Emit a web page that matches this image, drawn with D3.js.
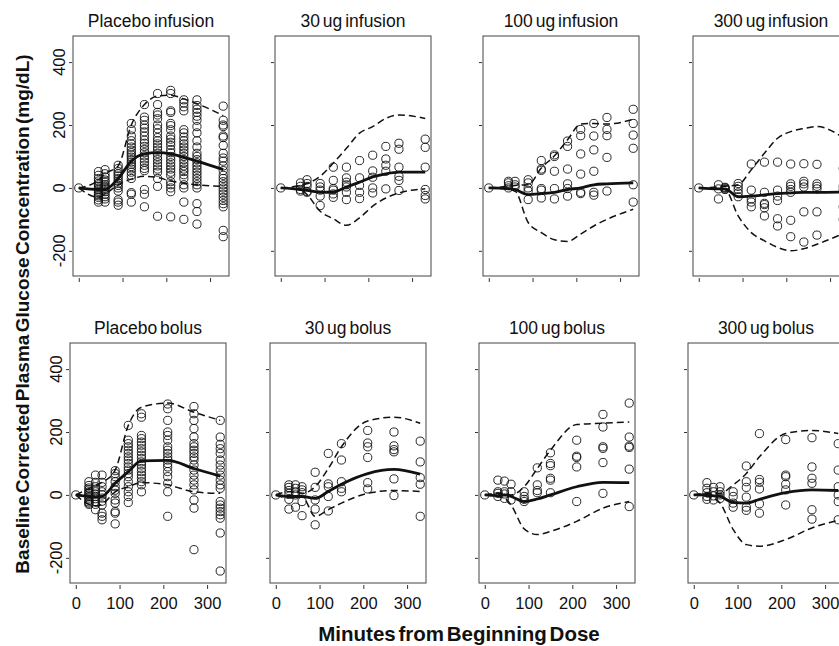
<!DOCTYPE html>
<html>
<head>
<meta charset="utf-8">
<script src="https://cdn.jsdelivr.net/npm/d3@7/dist/d3.min.js"></script>
<style>
  body { margin: 0; background: #fff; }
  svg { display: block; }
  text { font-family: "Liberation Sans", Arial, sans-serif; fill: #111; }
</style>
</head>
<body>
<svg id="chart" width="839" height="646"></svg>
<script>
// sampling times (minutes)
const infusionTimes = [0, 45, 60, 90, 120, 150, 180, 210, 240, 270, 330];
const bolusTimes = [0, 30, 45, 60, 90, 120, 150, 210, 270, 330];

const panelTitles = ["Placebo infusion", "30 ug infusion", "100 ug infusion", "300 ug infusion",
                     "Placebo bolus", "30 ug bolus", "100 ug bolus", "300 ug bolus"];

const xTicks = [0, 100, 200, 300];
const yTicks = [-200, 0, 200, 400];

// observed values, one list per sampling time
const placeboInfusionObs = [
    [0],
    [52, 40, 30, 22, 15, 10, 5, 0, -5, -10, -15, -20, -25, -30, -38, -45],
    [58, 45, 35, 25, 18, 10, 5, 0, -5, -12, -20, -28, -35, -45],
    [72, 62, 52, 45, 38, 30, 22, 15, 8, 0, -10, -38, -45, -55],
    [205, 185, 165, 150, 140, 130, 120, 112, 105, 98, 90, 82, 75, 68, 60, 50, 40, 30, -15, -20, -45],
    [265, 225, 215, 200, 190, 178, 165, 152, 142, 132, 122, 112, 102, 92, 82, 72, 62, 55, -5, -20, -60],
    [300, 265, 240, 232, 220, 200, 188, 175, 160, 150, 140, 130, 120, 110, 100, 90, 80, 70, 60, 50, 30, 5, -90],
    [310, 300, 245, 240, 205, 198, 185, 165, 155, 145, 135, 122, 112, 100, 90, 80, 70, 60, 50, 40, 20, 10, 0, -12, -92],
    [280, 270, 258, 245, 185, 175, 162, 150, 140, 130, 120, 110, 100, 90, 80, 70, 60, 52, 42, 30, 10, 0, -45, -100],
    [280, 262, 250, 240, 228, 215, 195, 175, 150, 130, 110, 100, 90, 80, 70, 60, 50, 40, 30, 20, 10, 0, -50, -75, -115],
    [260, 215, 200, 195, 165, 160, 135, 110, 95, 85, 70, 55, 40, 30, 20, 10, 0, -10, -20, -30, -40, -50, -60, -135, -155]
];
const placeboInfusionMed = [0, -5, -5, 30, 85, 108, 112, 108, 97, 85, 58];
const placeboInfusionHi = [0, 25, 45, 70, 200, 265, 292, 295, 283, 268, 230];
const placeboInfusionLo = [0, -30, -20, 10, 28, 37, 33, 22, 15, 10, 5];

const inf30Obs = [
    [0], [16, 5, -5, -10], [26, 14, 5, -11, -14], [14, 3, -7, -26, -56],
    [66, 24, -2, -7, -19, -30], [66, 32, 18, 10, 3, -14, -37], [87, 32, 8, -14, -34],
    [104, 54, 34, 0, -16], [132, 92, 72, 53, -3], [142, 123, 66, 37, 24, -8],
    [155, 129, 66, -5, -24, -35]
];
const inf30Med = [0, -5, -8, -14, -13, 3, 18, 35, 45, 50, 50];
const inf30Hi = [0, 8, 14, 37, 79, 126, 174, 195, 221, 232, 221];
const inf30Lo = [0, -5, -21, -74, -98, -119, -95, -58, -32, -16, -3];

const inf100Obs = [
    [0], [21, 16, 7, 0], [21, 10, 3], [26, 16, 0, -10, -37],
    [87, 60, 56, -2, -7, -32], [105, 100, 53, -2, -35], [149, 132, 60, 13, -2, -26],
    [186, 166, 108, 44, -14, -18], [205, 165, 121, 53, -14, -23], [224, 186, 166, 97, -10],
    [250, 205, 168, 126, 10, -45]
];
const inf100Med = [0, -2, -5, -21, -18, -14, -5, 0, 10, 13, 16];
const inf100Hi = [0, 5, 8, 10, 63, 102, 153, 203, 205, 203, 218];
const inf100Lo = [0, -5, -10, -110, -142, -165, -170, -147, -121, -100, -68];

const inf300Obs = [
    [0], [10, -3, -35], [2, 0, -3, -5], [14, 5, -5, -16, -28],
    [76, -7, -35, -45, -60], [82, -14, -49, -53, -63, -89], [82, -7, -26, -40, -98, -121],
    [76, 13, 5, -5, -14, -103, -155], [77, 21, 13, 3, -76, -172], [75, 13, 5, -3, -76, -150],
    [62, 5, -5, -60, -100]
];
const inf300Med = [0, -3, -3, -28, -26, -22, -18, -16, -14, -14, -13];
const inf300Hi = [0, 3, 5, 10, 58, 110, 158, 179, 189, 195, 160];
const inf300Lo = [0, -3, -5, -89, -142, -168, -189, -200, -193, -179, -145];

const placeboBolusObs = [
    [0],
    [42, 30, 22, 16, 10, 5, 0, -5, -10, -16, -22, -26, -30],
    [63, 40, 26, 18, 10, 3, -5, -12, -21, -30, -47],
    [63, 40, 26, 10, 0, -10, -20, -32, -58, -68, -79],
    [77, 68, 58, 42, 26, 15, 5, -16, -26, -53, -58, -92],
    [221, 174, 163, 153, 142, 132, 121, 111, 100, 89, 79, 68, 58, 42, 26, 10, -5, -24],
    [258, 247, 189, 179, 168, 158, 147, 137, 126, 116, 105, 95, 84, 74, 63, 53, 42, 32, 10],
    [289, 274, 237, 200, 189, 174, 153, 142, 132, 121, 111, 100, 89, 74, 58, 37, 10, -68],
    [281, 258, 237, 211, 184, 163, 153, 142, 132, 121, 111, 95, 79, 63, 47, 32, 16, -16, -42, -174],
    [237, 184, 161, 147, 132, 111, 95, 79, 63, 47, 32, 21, -21, -32, -42, -53, -63, -74, -121, -242]
];
const placeboBolusMed = [0, -5, -7, -5, 37, 74, 108, 110, 84, 60];
const placeboBolusHi = [0, 20, 30, 40, 79, 221, 279, 292, 263, 237];
const placeboBolusLo = [0, -30, -35, -30, 10, 26, 39, 32, 10, 5];

const bol30Obs = [
    [0], [32, 24, 14, 5, -14, -45], [32, 21, 10, 0, -39], [26, 16, 7, -21, -66],
    [72, 24, -16, -45, -95], [132, 35, 26, -5, -51], [163, 111, 42, 21, 10],
    [205, 165, 153, 119, 39, 19], [200, 156, 144, 137, 51, -2], [171, 105, 55, 34, -68]
];
const bol30Med = [0, -5, -5, -5, -11, 11, 34, 68, 81, 66];
const bol30Hi = [0, 10, 10, 5, 26, 84, 153, 235, 247, 228];
const bol30Lo = [0, -10, -10, -5, -68, -47, -26, 5, 14, 11];

const bol100Obs = [
    [0], [47, 10, 5, -5], [44, 10, 3, -11], [34, 10, -16], [10, -5, -14, -21],
    [86, 32, 14, 7], [134, 100, 93, 53, 47, 7], [174, 123, 119, 89, -21],
    [256, 216, 153, 148, 103, 5], [292, 184, 155, 151, 82, -37]
];
const bol100Med = [0, -2, 0, -5, -21, -13, 0, 26, 40, 39];
const bol100Hi = [0, 5, 5, 0, 26, 84, 142, 224, 228, 232];
const bol100Lo = [0, -5, -10, -32, -108, -126, -116, -84, -42, -21];

const bol300Obs = [
    [0], [39, 21, 7, -5, -14], [24, 10, -3, -16], [26, 10, 0, -11], [10, -5, -26, -39],
    [92, 42, 24, -7, -39, -49], [195, 49, 40, 19, -28, -58], [176, 63, 58, 34, 16, -32],
    [182, 89, 53, 37, -47, -77], [163, 79, 26, 0, -21, -79]
];
const bol300Med = [0, 0, -3, -5, -24, -26, -14, 7, 16, 14];
const bol300Hi = [0, 5, 5, 5, 32, 68, 121, 195, 205, 195];
const bol300Lo = [0, -5, -10, -26, -110, -158, -163, -142, -105, -81];

const panels = [
    [infusionTimes, placeboInfusionObs, placeboInfusionMed, placeboInfusionHi, placeboInfusionLo],
    [infusionTimes, inf30Obs, inf30Med, inf30Hi, inf30Lo],
    [infusionTimes, inf100Obs, inf100Med, inf100Hi, inf100Lo],
    [infusionTimes, inf300Obs, inf300Med, inf300Hi, inf300Lo],
    [bolusTimes, placeboBolusObs, placeboBolusMed, placeboBolusHi, placeboBolusLo],
    [bolusTimes, bol30Obs, bol30Med, bol30Hi, bol30Lo],
    [bolusTimes, bol100Obs, bol100Med, bol100Hi, bol100Lo],
    [bolusTimes, bol300Obs, bol300Med, bol300Hi, bol300Lo]
].map((p, i) => ({
    title: panelTitles[i], times: p[0], obs: p[1], med: p[2], hi: p[3], lo: p[4],
    row: Math.floor(i / 4), col: i % 4
}));

// layout
const panelW = 156, panelH = 240;
const rowTop = [36, 343];
const colLeft = [[73, 275, 483, 693], [70, 270, 479, 688]];

const x = d3.scaleLinear().domain([-13.2, 343.2]).range([0, panelW]);
const y = d3.scaleLinear().domain([-280, 483]).range([panelH, 0]);

const svg = d3.select("#chart");

const line = d3.line()
    .x(d => x(d[0]))
    .y(d => y(d[1]))
    .curve(d3.curveMonotoneX);

panels.forEach(p => {
    const g = svg.append("g")
        .attr("transform", `translate(${colLeft[p.row][p.col]},${rowTop[p.row]})`);

    g.append("text")
        .attr("x", panelW / 2)
        .attr("y", -9)
        .attr("text-anchor", "middle")
        .style("font-size", "17.5px")
        .style("word-spacing", "-2px")
        .text(p.title);

    // x axis (labels only on the bottom row)
    const xAxis = d3.axisBottom(x)
        .tickValues(xTicks)
        .tickSize(4)
        .tickPadding(8)
        .tickFormat(p.row === 1 ? d3.format("d") : () => "");
    const xg = g.append("g")
        .attr("transform", `translate(0,${panelH + 2})`)
        .call(xAxis);
    xg.select(".domain").remove();
    xg.selectAll("line").attr("stroke", "#333");
    xg.selectAll("text").style("font-size", "16.5px").attr("fill", "#111");

    const yg = g.append("g")
        .attr("transform", "translate(-1,0)")
        .call(d3.axisLeft(y).tickValues(yTicks).tickSize(3).tickFormat(() => ""));
    yg.select(".domain").remove();
    yg.selectAll("line").attr("stroke", "#333");

    if (p.col === 0) {
        g.selectAll(".ylab")
            .data(yTicks)
            .enter()
            .append("text")
            .attr("class", "ylab")
            .attr("transform", d => `translate(-8,${y(d)}) rotate(-90)`)
            .attr("text-anchor", "middle")
            .style("font-size", "16.5px")
            .text(d => d);
    }

    const pts = [];
    p.times.forEach((t, i) => p.obs[i].forEach(v => pts.push([t, v])));

    g.selectAll(".pt")
        .data(pts)
        .enter()
        .append("circle")
        .attr("class", "pt")
        .attr("cx", d => x(d[0]))
        .attr("cy", d => y(d[1]))
        .attr("r", 4.1)
        .attr("fill", "none")
        .attr("stroke", "#111")
        .attr("stroke-width", 0.9);

    [p.hi, p.lo].forEach(vals => {
        g.append("path")
            .datum(p.times.map((t, i) => [t, vals[i]]))
            .attr("d", line)
            .attr("fill", "none")
            .attr("stroke", "#111")
            .attr("stroke-width", 1.5)
            .attr("stroke-dasharray", "7,4");
    });

    g.append("path")
        .datum(p.times.map((t, i) => [t, p.med[i]]))
        .attr("d", line)
        .attr("fill", "none")
        .attr("stroke", "#111")
        .attr("stroke-width", 2.8);

    g.append("rect")
        .attr("width", panelW)
        .attr("height", panelH)
        .attr("fill", "none")
        .attr("stroke", "#444")
        .attr("stroke-width", 1);
});

// axis titles
svg.append("text")
    .attr("transform", "translate(29,314) rotate(-90)")
    .attr("text-anchor", "middle")
    .style("font-size", "19px")
    .style("font-weight", "bold")
    .style("word-spacing", "-3px")
    .text("Baseline Corrected Plasma Glucose Concentration (mg/dL)");

svg.append("text")
    .attr("x", 459)
    .attr("y", 641)
    .attr("text-anchor", "middle")
    .style("font-size", "20.5px")
    .style("font-weight", "bold")
    .style("word-spacing", "-3px")
    .text("Minutes from Beginning Dose");
</script>
</body>
</html>
